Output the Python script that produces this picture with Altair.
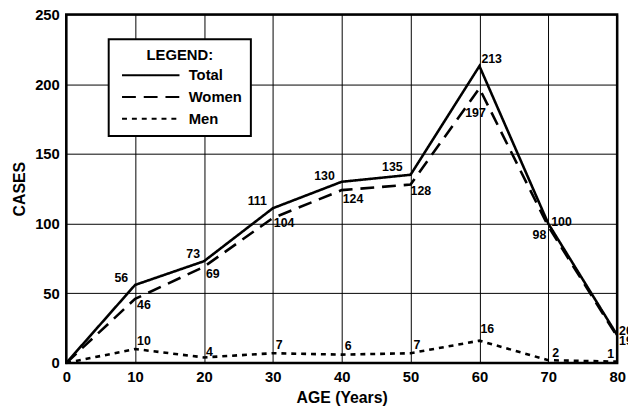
import altair as alt
import pandas as pd

ages = [0, 10, 20, 30, 40, 50, 60, 70, 80]
total = [0, 56, 73, 111, 130, 135, 213, 100, 20]
women = [0, 46, 69, 104, 124, 128, 197, 98, 19]
men = [0, 10, 4, 7, 6, 7, 16, 2, 1]
series_names = ["Total", "Women", "Men"]
y_ticks = [0, 50, 100, 150, 200, 250]

rows = []
for name, vals in zip(series_names, [total, women, men]):
    for a, v in zip(ages, vals):
        rows.append({"age": a, "cases": v, "series": name, "label": str(v)})
df = pd.DataFrame(rows)

FONT = "Liberation Sans"

# label placement (style): series, age, align, dx, dy
placements = [
    ("Total", 10, "right", -7, -7), ("Total", 20, "right", -4, -7),
    ("Total", 30, "right", -6, -7), ("Total", 40, "right", -7, -6),
    ("Total", 50, "right", -8, -8), ("Total", 60, "left", 2, -7),
    ("Total", 70, "left", 3, -2), ("Total", 80, "left", 2, -4),
    ("Women", 10, "left", 2, 6), ("Women", 20, "left", 2, 7),
    ("Women", 30, "left", 1, 5), ("Women", 40, "left", 1, 9),
    ("Women", 50, "left", 0, 7), ("Women", 60, "center", -4, 25),
    ("Women", 70, "right", -2, 9), ("Women", 80, "left", 2, 5),
    ("Men", 10, "left", 2, -8), ("Men", 20, "left", 2, -5),
    ("Men", 30, "left", 3, -8), ("Men", 40, "left", 3, -9),
    ("Men", 50, "left", 3, -8), ("Men", 60, "left", 1, -12),
    ("Men", 70, "left", 4, -7), ("Men", 80, "right", -3, -8),
]

x = alt.X("age:Q", scale=alt.Scale(domain=[0, 80], nice=False),
          axis=alt.Axis(values=ages, title="AGE (Years)", grid=True,
                        labelPadding=7, titlePadding=5, labelFlush=False))
y = alt.Y("cases:Q", scale=alt.Scale(domain=[0, 250], nice=False),
          axis=alt.Axis(values=y_ticks, title="CASES", grid=True,
                        labelPadding=7, titlePadding=7))

lines = alt.Chart(df).mark_line(color="black", strokeWidth=2.6).encode(
    x=x, y=y,
    strokeDash=alt.StrokeDash(
        "series:N",
        scale=alt.Scale(domain=series_names, range=[[1, 0], [14, 8], [5, 5]]),
        legend=alt.Legend(
            title="LEGEND:", orient="none", legendX=43, legendY=25,
            strokeColor="black", fillColor="white", padding=9,
            titleFontSize=15, titleFontWeight="bold", titleFont=FONT,
            titleAnchor="middle", titleAlign="center", titleColor="black",
            titlePadding=5,
            labelFontSize=15, labelFontWeight="bold", labelFont=FONT,
            labelColor="black", labelOffset=57,
            symbolType="M-0.5,0L9.2,0", symbolSize=144, symbolStrokeWidth=2,
            symbolStrokeColor="black", rowPadding=6,
        ),
    ),
    order="age:Q",
)

layers = [lines]
for s, a, al, dx, dy in placements:
    layers.append(
        alt.Chart(df).transform_filter(
            (alt.datum.series == s) & (alt.datum.age == a)
        ).mark_text(align=al, baseline="middle", dx=dx, dy=dy, fontSize=12.5,
                    fontWeight="bold", font=FONT, color="black").encode(
            x=x, y=y, text="label:N")
    )

chart = alt.layer(*layers).properties(
    width=558, height=353,
    autosize=alt.AutoSizeParams(type="none"),
    padding={"left": 59, "top": 4, "right": 11, "bottom": 41},
).configure_view(stroke="black", strokeWidth=2.5).configure_axis(
    labelFont=FONT, labelFontSize=15, labelFontWeight="bold", labelColor="black",
    titleFont=FONT, titleFontSize=16, titleFontWeight="bold", titleColor="black",
    ticks=False, domain=False, gridColor="black", gridOpacity=1, gridWidth=1,
).configure_legend(strokeWidth=2)

chart.save("out.html", embed_options={"renderer": "svg", "actions": False})
